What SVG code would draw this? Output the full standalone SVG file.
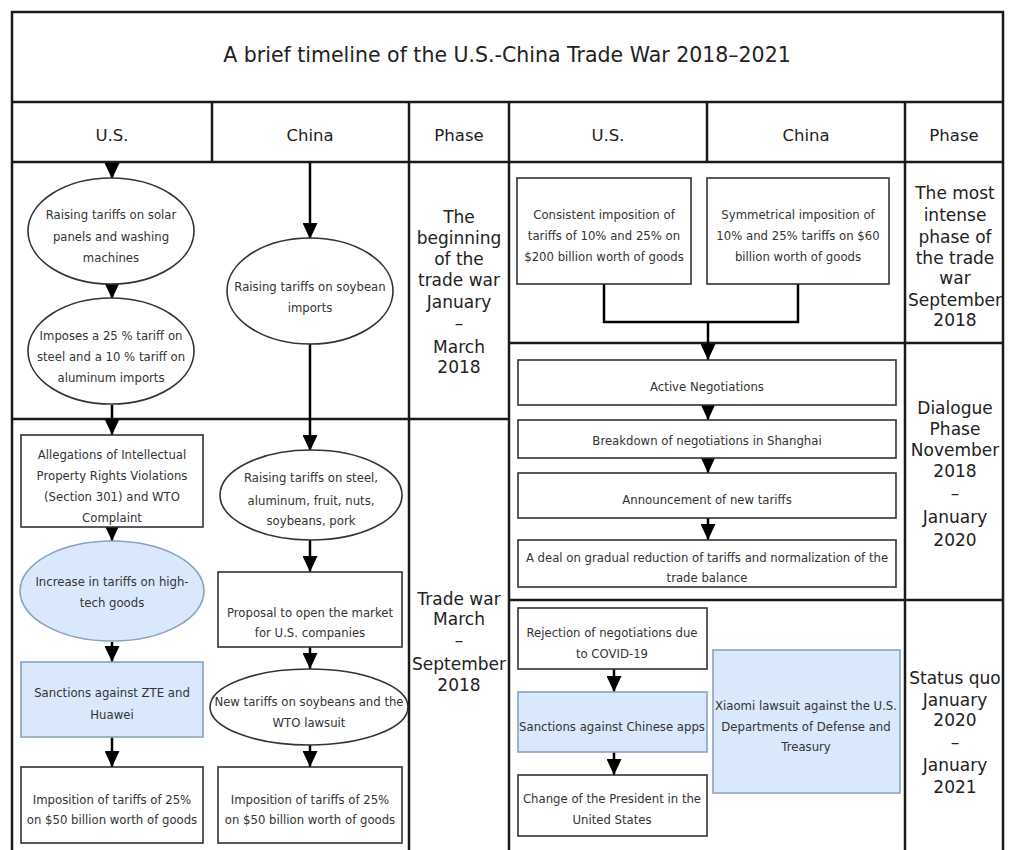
<svg xmlns="http://www.w3.org/2000/svg" width="1010" height="850" viewBox="0 0 1010 850">
<style>
.grid{stroke:#1a1a1a;stroke-width:2.5;fill:none}
.nd{fill:#fff;stroke:#333;stroke-width:1.6}
.bl{fill:#dae8fc;stroke:#8aa2c0;stroke-width:1.6}
.t{font-family:"DejaVu Sans",Verdana,sans-serif;font-size:11.7px;fill:#333;text-anchor:middle}
.h{font-family:"DejaVu Sans",Verdana,sans-serif;font-size:16.5px;fill:#222;text-anchor:middle}
.ttl{font-family:"DejaVu Sans",Verdana,sans-serif;font-size:20.5px;fill:#222;text-anchor:middle}
.p{font-family:"DejaVu Sans",Verdana,sans-serif;font-size:17px;fill:#222;text-anchor:middle}
.c{stroke:#000;stroke-width:2.5;fill:none}
</style>
<defs>
<marker id="ah" markerUnits="userSpaceOnUse" markerWidth="16" markerHeight="15" refX="16" refY="7.5" orient="auto" viewBox="0 0 16 15"><path d="M0,0 L16,7.5 L0,15 z" fill="#000"/></marker>
</defs>
<rect width="1010" height="850" fill="#fff"/>
<g id="grid">
<path class="grid" d="M12,852 V12 H1003 V852"/>
<path class="grid" d="M12,102 H1003 M12,162 H1003"/>
<path class="grid" d="M212,102 V162 M707,102 V162"/>
<path class="grid" d="M409,102 V852 M509,102 V852 M905,102 V852"/>
<path class="grid" d="M12,419 H509 M509,343 H1003 M509,600 H1003"/>
</g>
<g id="title"><text class="ttl" x="507" y="62">A brief timeline of the U.S.-China Trade War 2018–2021</text></g>
<g id="headers">
<text class="h" x="112" y="141">U.S.</text>
<text class="h" x="310" y="141">China</text>
<text class="h" x="459" y="141">Phase</text>
<text class="h" x="608" y="141">U.S.</text>
<text class="h" x="806" y="141">China</text>
<text class="h" x="954" y="141">Phase</text>
</g>
<g id="phases">
<text class="p" x="459"><tspan x="459" y="223">The</tspan><tspan x="459" y="244">beginning</tspan><tspan x="459" y="265">of the</tspan><tspan x="459" y="286">trade war</tspan><tspan x="459" y="308">January</tspan><tspan x="459" y="329">–</tspan><tspan x="459" y="353">March</tspan><tspan x="459" y="373">2018</tspan></text>
<text class="p" x="459"><tspan x="459" y="605">Trade war</tspan><tspan x="459" y="625">March</tspan><tspan x="459" y="646">–</tspan><tspan x="459" y="670">September</tspan><tspan x="459" y="691">2018</tspan></text>
<text class="p" x="955"><tspan x="955" y="199">The most</tspan><tspan x="955" y="221">intense</tspan><tspan x="955" y="243">phase of</tspan><tspan x="955" y="264">the trade</tspan><tspan x="955" y="284">war</tspan><tspan x="955" y="306">September</tspan><tspan x="955" y="326">2018</tspan></text>
<text class="p" x="955"><tspan x="955" y="414">Dialogue</tspan><tspan x="955" y="435">Phase</tspan><tspan x="955" y="456">November</tspan><tspan x="955" y="477">2018</tspan><tspan x="955" y="499">–</tspan><tspan x="955" y="523">January</tspan><tspan x="955" y="546">2020</tspan></text>
<text class="p" x="955"><tspan x="955" y="684">Status quo</tspan><tspan x="955" y="706">January</tspan><tspan x="955" y="726">2020</tspan><tspan x="955" y="748">–</tspan><tspan x="955" y="771">January</tspan><tspan x="955" y="793">2021</tspan></text>
</g>
<g id="connectors">
<line class="c" x1="112" y1="163" x2="112" y2="179" marker-end="url(#ah)"/>
<line class="c" x1="112" y1="284" x2="112" y2="299" marker-end="url(#ah)"/>
<line class="c" x1="112" y1="405" x2="112" y2="435" marker-end="url(#ah)"/>
<line class="c" x1="112" y1="527" x2="112" y2="541" marker-end="url(#ah)"/>
<line class="c" x1="112" y1="642" x2="112" y2="662" marker-end="url(#ah)"/>
<line class="c" x1="112" y1="737" x2="112" y2="767" marker-end="url(#ah)"/>
<line class="c" x1="310" y1="163" x2="310" y2="239" marker-end="url(#ah)"/>
<line class="c" x1="310" y1="344" x2="310" y2="451" marker-end="url(#ah)"/>
<line class="c" x1="310" y1="540" x2="310" y2="572" marker-end="url(#ah)"/>
<line class="c" x1="310" y1="647" x2="310" y2="669" marker-end="url(#ah)"/>
<line class="c" x1="310" y1="745" x2="310" y2="767" marker-end="url(#ah)"/>
<path class="c" d="M604,284 V322 H798 V284"/>
<line class="c" x1="708" y1="322" x2="708" y2="360" marker-end="url(#ah)"/>
<line class="c" x1="708" y1="405" x2="708" y2="420" marker-end="url(#ah)"/>
<line class="c" x1="708" y1="458" x2="708" y2="473" marker-end="url(#ah)"/>
<line class="c" x1="708" y1="518" x2="708" y2="540" marker-end="url(#ah)"/>
<line class="c" x1="614" y1="669" x2="614" y2="692" marker-end="url(#ah)"/>
<line class="c" x1="614" y1="752" x2="614" y2="775" marker-end="url(#ah)"/>
</g>
<g id="n-solar">
<ellipse class="nd" cx="111" cy="231" rx="83" ry="53"/>
<text class="t"><tspan x="111" y="219">Raising tariffs on solar</tspan><tspan x="111" y="241">panels and washing</tspan><tspan x="111" y="262">machines</tspan></text>
</g>
<g id="n-steel-us">
<ellipse class="nd" cx="111" cy="351" rx="83" ry="53"/>
<text class="t"><tspan x="111" y="340">Imposes a 25 % tariff on</tspan><tspan x="111" y="361">steel and a 10 % tariff on</tspan><tspan x="111" y="382">aluminum imports</tspan></text>
</g>
<g id="n-soy">
<ellipse class="nd" cx="310" cy="291" rx="83" ry="53"/>
<text class="t"><tspan x="310" y="291">Raising tariffs on soybean</tspan><tspan x="310" y="312">imports</tspan></text>
</g>
<g id="n-ip">
<rect class="nd" x="21" y="435" width="182" height="92"/>
<text class="t"><tspan x="112" y="459">Allegations of Intellectual</tspan><tspan x="112" y="480">Property Rights Violations</tspan><tspan x="112" y="501">(Section 301) and WTO</tspan><tspan x="112" y="522">Complaint</tspan></text>
</g>
<g id="n-hightech">
<ellipse class="bl" cx="112" cy="591" rx="92" ry="50"/>
<text class="t"><tspan x="112" y="586">Increase in tariffs on high-</tspan><tspan x="112" y="607">tech goods</tspan></text>
</g>
<g id="n-zte">
<rect class="bl" x="21" y="662" width="182" height="75"/>
<text class="t"><tspan x="112" y="697">Sanctions against ZTE and</tspan><tspan x="112" y="719">Huawei</tspan></text>
</g>
<g id="n-us50">
<rect class="nd" x="21" y="767" width="182" height="76"/>
<text class="t"><tspan x="112" y="804">Imposition of tariffs of 25%</tspan><tspan x="112" y="824">on $50 billion worth of goods</tspan></text>
</g>
<g id="n-cn-steel">
<ellipse class="nd" cx="311" cy="495" rx="91" ry="45"/>
<text class="t"><tspan x="311" y="482">Raising tariffs on steel,</tspan><tspan x="311" y="505">aluminum, fruit, nuts,</tspan><tspan x="311" y="525">soybeans, pork</tspan></text>
</g>
<g id="n-market">
<rect class="nd" x="218" y="572" width="184" height="75"/>
<text class="t"><tspan x="310" y="617">Proposal to open the market</tspan><tspan x="310" y="637">for U.S. companies</tspan></text>
</g>
<g id="n-wto">
<ellipse class="nd" cx="309" cy="707" rx="99" ry="38"/>
<text class="t"><tspan x="309" y="706">New tariffs on soybeans and the</tspan><tspan x="309" y="727">WTO lawsuit</tspan></text>
</g>
<g id="n-cn50">
<rect class="nd" x="218" y="767" width="184" height="76"/>
<text class="t"><tspan x="310" y="804">Imposition of tariffs of 25%</tspan><tspan x="310" y="824">on $50 billion worth of goods</tspan></text>
</g>
<g id="n-200">
<rect class="nd" x="517" y="178" width="174" height="106"/>
<text class="t"><tspan x="604" y="219">Consistent imposition of</tspan><tspan x="604" y="240">tariffs of 10% and 25% on</tspan><tspan x="604" y="261">$200 billion worth of goods</tspan></text>
</g>
<g id="n-60">
<rect class="nd" x="707" y="178" width="182" height="106"/>
<text class="t"><tspan x="798" y="219">Symmetrical imposition of</tspan><tspan x="798" y="240">10% and 25% tariffs on $60</tspan><tspan x="798" y="261">billion worth of goods</tspan></text>
</g>
<g id="n-active">
<rect class="nd" x="518" y="360" width="378" height="45"/>
<text class="t" x="707" y="391">Active Negotiations</text>
</g>
<g id="n-breakdown">
<rect class="nd" x="518" y="420" width="378" height="38"/>
<text class="t" x="707" y="445">Breakdown of negotiations in Shanghai</text>
</g>
<g id="n-announce">
<rect class="nd" x="518" y="473" width="378" height="45"/>
<text class="t" x="707" y="504">Announcement of new tariffs</text>
</g>
<g id="n-deal">
<rect class="nd" x="518" y="540" width="378" height="47"/>
<text class="t"><tspan x="707" y="562">A deal on gradual reduction of tariffs and normalization of the</tspan><tspan x="707" y="582">trade balance</tspan></text>
</g>
<g id="n-covid">
<rect class="nd" x="518" y="608" width="189" height="61"/>
<text class="t"><tspan x="612" y="637">Rejection of negotiations due</tspan><tspan x="612" y="658">to COVID-19</tspan></text>
</g>
<g id="n-apps">
<rect class="bl" x="518" y="692" width="189" height="60"/>
<text class="t" x="612" y="731">Sanctions against Chinese apps</text>
</g>
<g id="n-president">
<rect class="nd" x="518" y="775" width="189" height="61"/>
<text class="t"><tspan x="612" y="803">Change of the President in the</tspan><tspan x="612" y="824">United States</tspan></text>
</g>
<g id="n-xiaomi">
<rect class="bl" x="713" y="650" width="187" height="143"/>
<text class="t"><tspan x="806" y="710">Xiaomi lawsuit against the U.S.</tspan><tspan x="806" y="731">Departments of Defense and</tspan><tspan x="806" y="751">Treasury</tspan></text>
</g>
</svg>
